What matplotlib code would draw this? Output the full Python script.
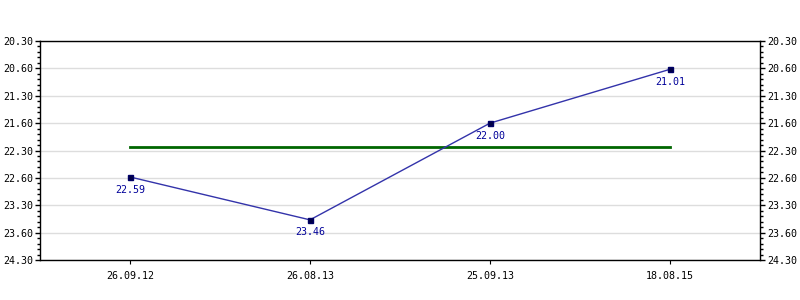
import matplotlib
matplotlib.use("Agg")
import matplotlib.pyplot as plt
from matplotlib.ticker import FixedLocator, MultipleLocator

dates = ["26.09.12", "26.08.13", "25.09.13", "18.08.15"]
value_labels = ["22.59", "23.46", "22.00", "21.01"]
ytick_labels = ["20.30", "20.60", "21.30", "21.60", "22.30", "22.60", "23.30", "23.60", "24.30"]
ytick_seconds = [1230, 1260, 1290, 1320, 1350, 1380, 1410, 1440, 1470]


def to_seconds(s):
    m, sec = s.split(".")
    return int(m) * 60 + int(sec)


values = [to_seconds(v) for v in value_labels]
avg = sum(values) / len(values)

FS = 7.2
plt.rcParams['font.family'] = ['DejaVu Sans Mono']
fig = plt.figure(figsize=(8, 3), dpi=100)
ax = fig.add_axes([0.05, 0.1333, 0.90, 0.73])
x = list(range(len(dates)))

for yv in ytick_seconds:
    ax.axhline(yv, color="#dddddd", lw=1, zorder=0)

ax.plot([x[0], x[-1]], [avg, avg], color="#006600", lw=2, zorder=2)
ax.plot(x, values, color="#3333aa", lw=1, zorder=3)
ax.plot(x, values, ls="none", marker="s", ms=3.6, mfc="#000044", mec="#000066", zorder=4)
for xi, v, lab in zip(x, values, value_labels):
    ax.annotate(lab, (xi, v), xytext=(0, -5.5), textcoords="offset points",
                ha="center", va="top", fontsize=FS, color="#000099")

ax.set_xlim(-0.5, len(dates) - 0.5)
ax.set_ylim(1470, 1230)
ax.set_xticks(x)
ax.set_xticklabels(dates, fontsize=FS)
ax.yaxis.set_major_locator(FixedLocator(ytick_seconds))
ax.set_yticklabels(ytick_labels, fontsize=FS)
ax.yaxis.set_minor_locator(MultipleLocator(6))
ax.tick_params(axis="y", which="both", left=True, right=True, labelleft=True, labelright=True,
               direction="out")
ax.tick_params(axis="y", which="major", length=3.6, width=1, pad=1.5)
ax.tick_params(axis="y", which="minor", length=2.2, width=1)
ax.tick_params(axis="x", which="major", length=3, direction="out", pad=5)
for s in ax.spines.values():
    s.set_color("black")
    s.set_linewidth(1)

fig.savefig("out.png", dpi=100, facecolor="white")
